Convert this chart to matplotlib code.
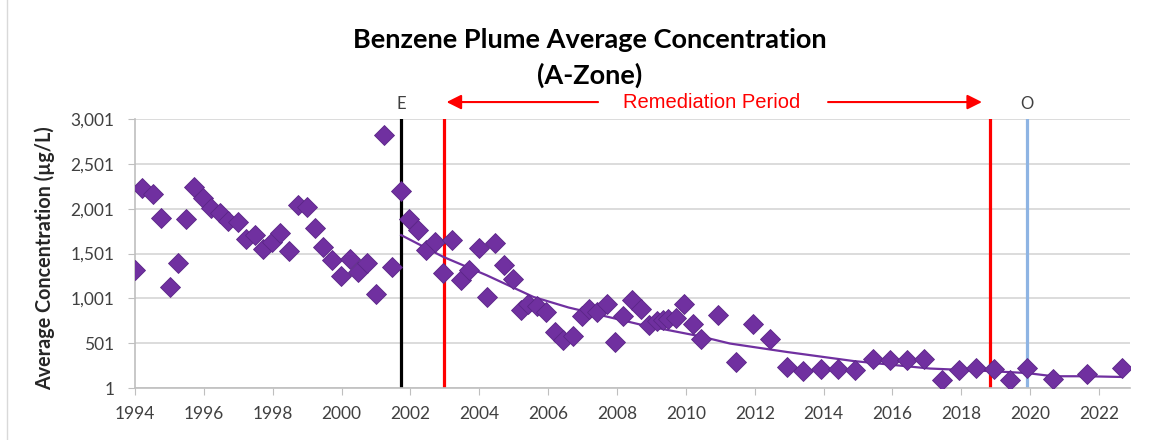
# Benzene plume average concentration (A-Zone) scatter with trend

import matplotlib
matplotlib.use('Agg')
import matplotlib.pyplot as plt
import matplotlib.transforms as mtransforms
from matplotlib.lines import Line2D

# data
years = [1994.0, 1994.21, 1994.51, 1994.75, 1995.02, 1995.24, 1995.48, 1995.71, 1995.98, 1996.21,
         1996.47, 1996.71, 1996.98, 1997.21, 1997.49, 1997.73, 1997.97, 1998.21, 1998.47, 1998.74,
         1999.01, 1999.23, 1999.47, 1999.71, 1999.98, 2000.24, 2000.49, 2000.73, 2000.99, 2001.24,
         2001.47, 2001.73, 2001.96, 2002.21, 2002.44, 2002.71, 2002.95, 2003.22, 2003.47, 2003.71,
         2003.99, 2004.21, 2004.46, 2004.72, 2004.97, 2005.20, 2005.42, 2005.67, 2005.94, 2006.20,
         2006.44, 2006.73, 2006.97, 2007.19, 2007.43, 2007.70, 2007.94, 2008.18, 2008.43, 2008.69,
         2008.94, 2009.15, 2009.34, 2009.49, 2009.71, 2009.94, 2010.20, 2010.43, 2010.94, 2011.46,
         2011.94, 2012.44, 2012.93, 2013.41, 2013.92, 2014.43, 2014.91, 2015.43, 2015.93, 2016.41,
         2016.92, 2017.43, 2017.94, 2018.43, 2018.95, 2019.41, 2019.92, 2020.65, 2021.64, 2022.66]
conc = [1315, 2227, 2164, 1899, 1129, 1390, 1881, 2245, 2116, 2011,
        1948, 1862, 1854, 1658, 1706, 1546, 1631, 1725, 1531, 2041,
        2022, 1781, 1575, 1427, 1248, 1435, 1296, 1390, 1047, 2822,
        1345, 2200, 1881, 1762, 1538, 1631, 1278, 1650, 1203, 1315,
        1557, 1017, 1613, 1371, 1222, 869, 943, 913, 850, 626,
        534, 579, 802, 887, 850, 935, 515, 802, 980, 887,
        701, 749, 764, 776, 787, 943, 720, 553, 813, 291,
        720, 553, 235, 191, 210, 218, 199, 329, 318, 318,
        329, 87, 199, 229, 218, 95, 229, 106, 162, 229]

# trend line
trend_x = [2001.73, 2002.95, 2004.21, 2005.57, 2006.59, 2008.76, 2010.41, 2011.28,
           2012.93, 2014.86, 2017.09, 2018.74, 2019.90, 2020.67, 2021.64, 2022.66]
trend_y = [1706, 1464, 1259, 1017, 899, 701, 578, 497,
           403, 302, 218, 191, 168, 132, 132, 124]

# event lines
event_E = 2001.73
remed_start = 2002.97
remed_end = 2018.84
event_O = 2019.91

xticks = list(range(1994, 2023, 2))
yticks = list(range(1, 3002, 500))

purple = '#7030A0'
font = 'Lato'

fig = plt.figure(figsize=(11.6, 4.4), dpi=100)
ax = fig.add_axes([135/1160, 1-388/440, (1130-135)/1160, (388-119)/440])

# vertical markers
ax.axvline(event_E, color='black', lw=2.3, zorder=2)
ax.axvline(remed_start, color='#ff0000', lw=2.3, zorder=2)
ax.axvline(remed_end, color='#ff0000', lw=2.3, zorder=2)
ax.axvline(event_O, color='#8eb4e3', lw=2.3, zorder=2)

# trend and data
ax.plot(trend_x, trend_y, '-', color=purple, lw=1.6, zorder=3)
ax.plot(years, conc, 'D', color=purple, markersize=9.8,
        markeredgecolor='#5b2687', markeredgewidth=0.6, zorder=4)

# axes
ax.set_xlim(1994, 2022.9)
ax.set_ylim(1, 3001)
ax.set_xticks(xticks)
ax.set_xticklabels([str(x) for x in xticks], fontsize=12.5, family=font)
ax.set_yticks(yticks)
ax.set_yticklabels(['{:,}'.format(y) for y in yticks], fontsize=12.5, family=font)
ax.yaxis.grid(True, color='#d9d9d9', lw=1.3)
ax.set_axisbelow(True)
for s in ['top', 'right']:
    ax.spines[s].set_visible(False)
for s in ['left', 'bottom']:
    ax.spines[s].set_color('#bfbfbf')
    ax.spines[s].set_linewidth(1.2)
ax.tick_params(length=5, color='#bfbfbf', labelcolor='#404040')
ax.tick_params(axis='y', pad=10)
ax.tick_params(axis='x', pad=8)

# labels above the plot
trans = mtransforms.blended_transform_factory(ax.transData, ax.transAxes)
ax.text(event_E, 1.057, 'E', transform=trans, ha='center', va='center',
        fontsize=12, color='#404040', family=font)
ax.text(event_O, 1.057, 'O', transform=trans, ha='center', va='center',
        fontsize=12, color='#404040', family=font)
ax.annotate('', xy=(2003.05, 1.063), xytext=(2007.45, 1.063), xycoords=trans, textcoords=trans,
            arrowprops=dict(arrowstyle='-|>', color='#ff0000', lw=1.5, mutation_scale=22,
                            shrinkA=0, shrinkB=0), annotation_clip=False)
ax.annotate('', xy=(2018.6, 1.063), xytext=(2014.13, 1.063), xycoords=trans, textcoords=trans,
            arrowprops=dict(arrowstyle='-|>', color='#ff0000', lw=1.5, mutation_scale=22,
                            shrinkA=0, shrinkB=0), annotation_clip=False)
ax.text(2010.76, 1.063, 'Remediation Period', transform=trans, ha='center', va='center',
        fontsize=14.5, color='#ff0000', family='Liberation Sans')

# title and y label
fig.text(590/1160, 1-40/440, 'Benzene Plume Average Concentration', ha='center', va='center',
         fontsize=19.5, fontweight='bold', family=font, color='black')
fig.text(590/1160, 1-75/440, '(A-Zone)', ha='center', va='center',
         fontsize=19.5, fontweight='bold', family=font, color='black')
fig.text(45/1160, 1-258/440, 'Average Concentration (µg/L)', rotation=90, ha='center', va='center',
         fontsize=14.2, fontweight='bold', family=font, color='#262626')

# chart border
fig.add_artist(Line2D([7/1160, 7/1160], [0, 1], color='#d9d9d9', lw=1))

fig.savefig('out.png', dpi=100)
